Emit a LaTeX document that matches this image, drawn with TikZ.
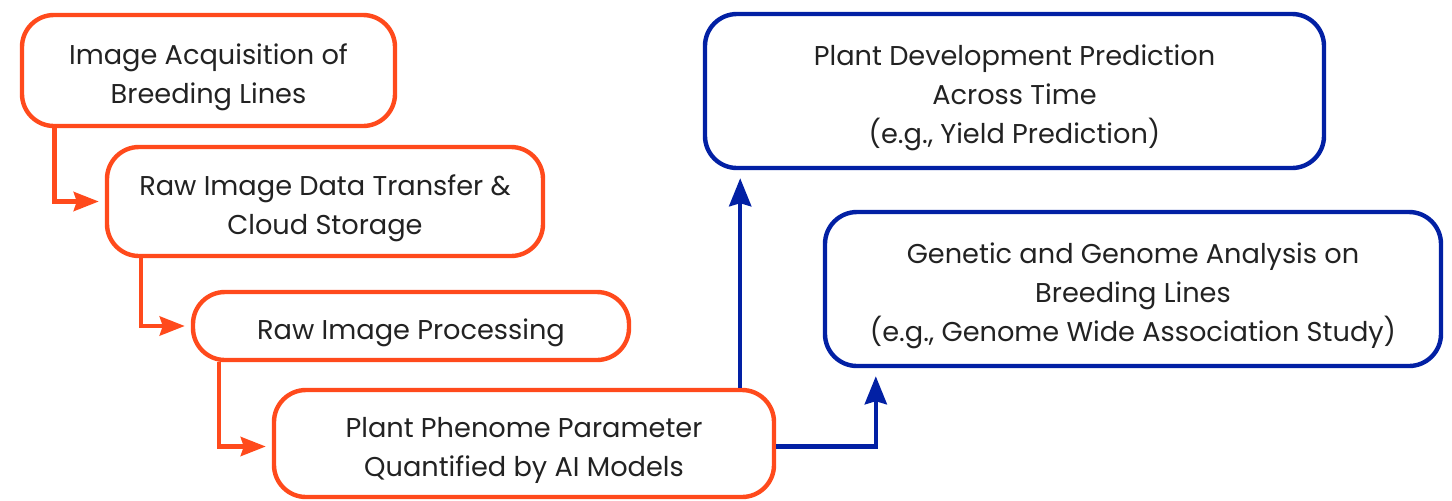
\documentclass[tikz,border=0pt]{standalone}
\usepackage{fontspec}
\setmainfont{Poppins}
\usetikzlibrary{arrows.meta}
\definecolor{flowred}{RGB}{255,74,28}
\definecolor{flowblue}{RGB}{2,32,164}
\definecolor{inkgray}{RGB}{34,34,34}
% taller first line, pushes the text a bit lower in its box
\newcommand{\lift}{\rule{0pt}{17pt}}

\begin{document}
\begin{tikzpicture}[x=0.5pt,y=-0.5pt,
    stage/.style={draw=flowred,line width=2.2pt,rounded corners=16pt,
      align=center,inner sep=0pt,text=inkgray,
      font=\fontsize{13.6}{19.5}\selectfont},
    result/.style={stage,draw=flowblue},
    rline/.style={draw=flowred,line width=2.2pt,
      -{Stealth[length=12.5pt,width=9.5pt,inset=1.5pt]},shorten >=3pt},
    bline/.style={rline,draw=flowblue,
      -{Stealth[length=14pt,width=11pt,inset=1.5pt]},shorten >=4pt}]
  \useasboundingbox (0,0) rectangle (1452,500);
  % pipeline stages
  \node[stage,minimum width=186.5pt,minimum height=55.5pt] (acq) at (208.5,70.5)
    {\lift Image Acquisition of\\Breeding Lines};
  \node[stage,minimum width=218pt,minimum height=54.5pt] (cloud) at (325,201.5)
    {\lift Raw Image Data Transfer \&\\Cloud Storage};
  \node[stage,minimum width=218pt,minimum height=34pt] (proc) at (411,326)
    {\lift Raw Image Processing};
  \node[stage,minimum width=250pt,minimum height=53.5pt] (pheno) at (524,443.5)
    {\lift Plant Phenome Parameter\\Quantified by AI Models};
  % downstream uses
  \node[result,minimum width=309.5pt,minimum height=77pt] (yield) at (1014.5,91)
    {\lift Plant Development Prediction\\Across Time\\(e.g., Yield Prediction)};
  \node[result,minimum width=308pt,minimum height=77pt] (gwas) at (1133,289)
    {\lift Genetic and Genome Analysis on\\Breeding Lines\\(e.g., Genome Wide Association Study)};

  \draw[rline] ([xshift=17.25pt]acq.south west) |- (cloud.west);
  \draw[rline] ([xshift=18pt]cloud.south west) |- (proc.west);
  \draw[rline] ([xshift=14pt]proc.south west) |- ([yshift=-1.5pt]pheno.west);

  \draw[bline] ([xshift=-18pt]pheno.north east) -- ([xshift=-18pt]pheno.north east |- yield.south);
  \draw[bline] ([yshift=-1.5pt]pheno.east) -| ([xshift=26.5pt]gwas.south west);
\end{tikzpicture}
\end{document}
